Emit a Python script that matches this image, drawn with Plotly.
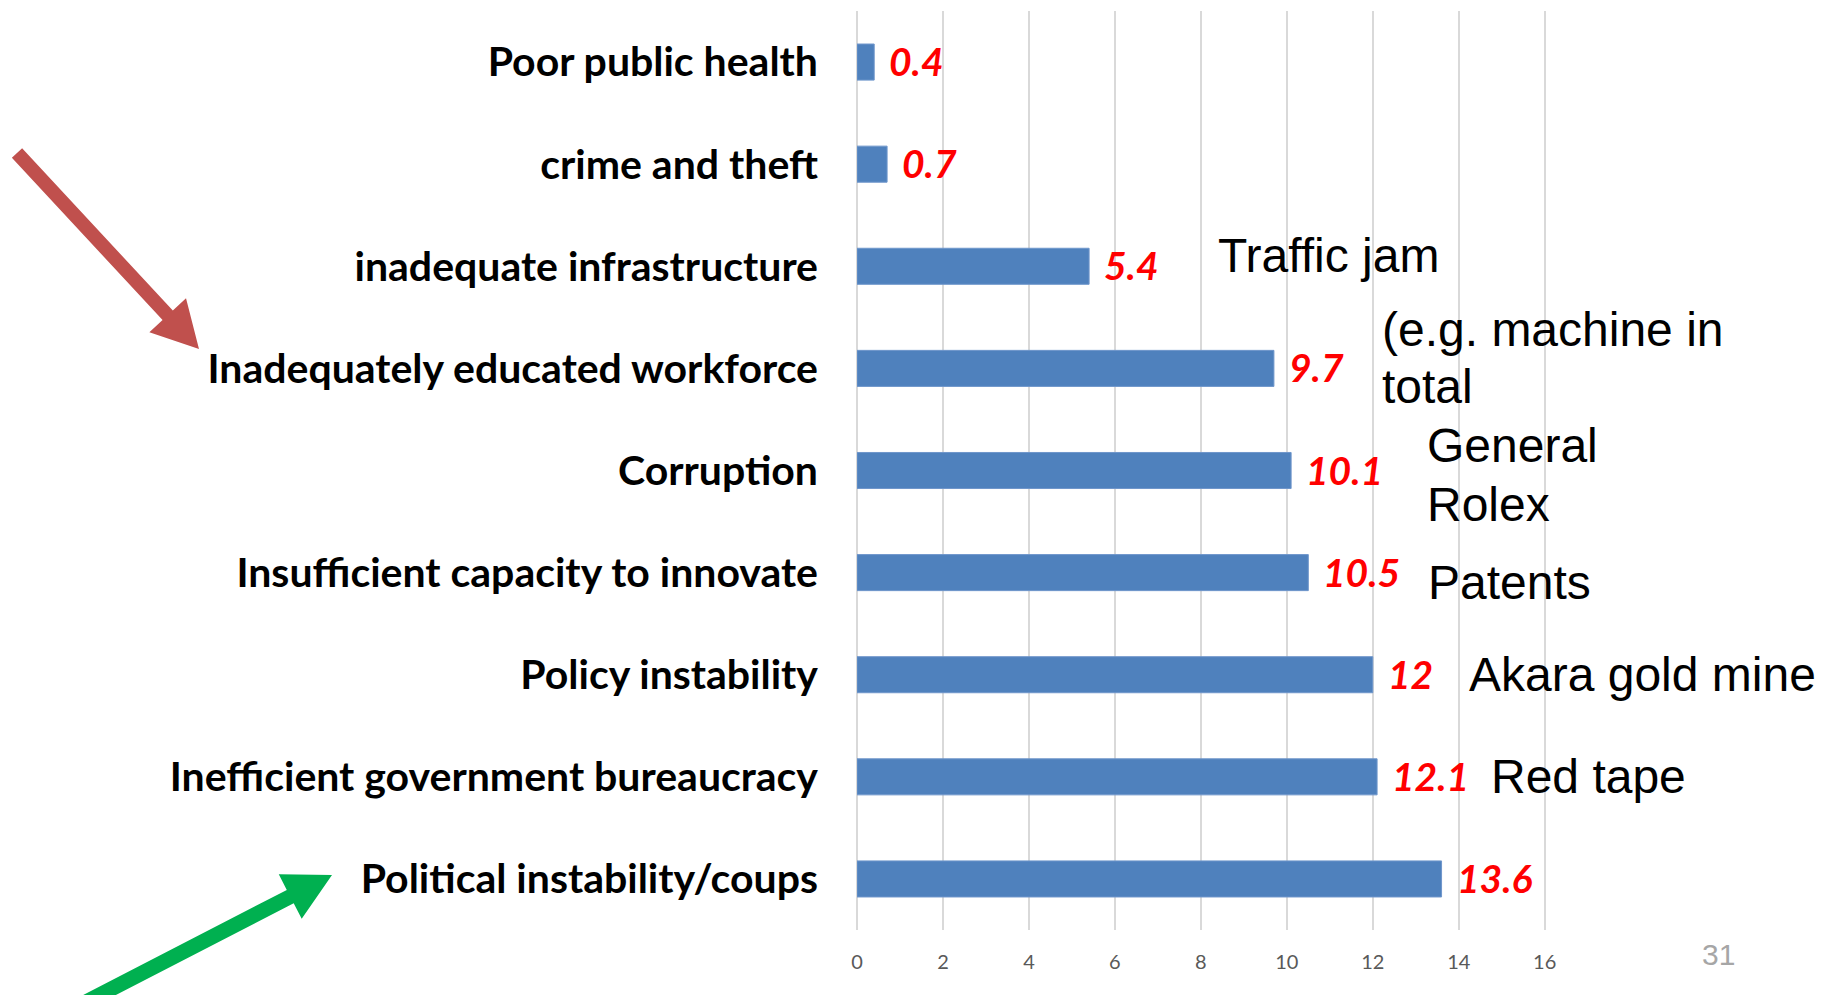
import math
import plotly.graph_objects as go

categories = [
    "Poor public health",
    "crime and theft",
    "inadequate infrastructure",
    "Inadequately educated workforce",
    "Corruption",
    "Insufficient capacity to innovate",
    "Policy instability",
    "Inefficient government bureaucracy",
    "Political instability/coups",
]
values = [0.4, 0.7, 5.4, 9.7, 10.1, 10.5, 12, 12.1, 13.6]
value_labels = ["0.4", "0.7", "5.4", "9.7", "10.1", "10.5", "12", "12.1", "13.6"]
x_ticks = [0, 2, 4, 6, 8, 10, 12, 14, 16]

# side notes: (text, x px, y px centre) in page pixels
notes = [
    ("Traffic jam", 1216, 256),
    ("(e.g. machine in", 1380, 329),
    ("total", 1380, 386),
    ("General", 1425, 446),
    ("Rolex", 1425, 504),
    ("Patents", 1426, 582),
    ("Akara gold mine", 1467, 674),
    ("Red tape", 1489, 776),
]

OFF = 8  # page body margin
W, H = 1825 - OFF, 995 - OFF
L, R, T, B = 857 - OFF, 1546 - OFF, 11 - OFF, 930 - OFF
PW, PH = R - L, B - T


def px(x):
    return (x - OFF - L) / PW


def py(y):
    return (B - (y - OFF)) / PH


def arrow_path(tail, tip, shaft_w, head_w, head_len):
    dx, dy = tip[0] - tail[0], tip[1] - tail[1]
    ln = math.hypot(dx, dy)
    ux, uy = dx / ln, dy / ln
    nx, ny = -uy, ux
    bx, by = tip[0] - ux * head_len, tip[1] - uy * head_len
    s, h = shaft_w / 2, head_w / 2
    pts = [
        (tail[0] + nx * s, tail[1] + ny * s),
        (bx + nx * s, by + ny * s),
        (bx + nx * h, by + ny * h),
        tip,
        (bx - nx * h, by - ny * h),
        (bx - nx * s, by - ny * s),
        (tail[0] - nx * s, tail[1] - ny * s),
    ]
    return "M " + " L ".join(f"{px(x):.5f},{py(y):.5f}" for x, y in pts) + " Z"


fig = go.Figure()
fig.add_trace(go.Bar(
    x=values, y=categories, orientation="h",
    marker=dict(color="#4F81BD", line=dict(color="#6F96CB", width=1)),
    hoverinfo="skip",
))

annotations = []
for v, c, lab in zip(values, categories, value_labels):
    annotations.append(dict(
        x=v, y=c, xref="x", yref="y", text=f"<b><i>{lab}</i></b>",
        showarrow=False, xanchor="left", yanchor="middle", xshift=13, yshift=1,
        font=dict(family="Lato", size=39, color="#FF0000"),
    ))
for txt, x, y in notes:
    annotations.append(dict(
        x=px(x), y=py(y), xref="paper", yref="paper", text=txt,
        showarrow=False, xanchor="left", yanchor="middle",
        font=dict(family="Liberation Sans", size=48, color="#000000"),
    ))
annotations.append(dict(
    x=px(1700), y=py(954), xref="paper", yref="paper", text="31",
    showarrow=False, xanchor="left", yanchor="middle",
    font=dict(family="Liberation Sans Narrow, Liberation Sans", size=30, color="#A6A6A6"),
))

shapes = [
    dict(type="path", xref="paper", yref="paper",
         path=arrow_path((17, 153), (199, 349), 14, 50, 46),
         fillcolor="#C0504D", line=dict(width=0)),
    dict(type="path", xref="paper", yref="paper",
         path=arrow_path((86, 1002), (332, 875), 15, 50, 47),
         fillcolor="#00B050", line=dict(width=0)),
]

fig.update_layout(
    width=W, height=H,
    margin=dict(l=L, r=W - R, t=T, b=H - B, autoexpand=False),
    plot_bgcolor="white", paper_bgcolor="white",
    showlegend=False,
    bargap=0.647,
    annotations=annotations,
    shapes=shapes,
    xaxis=dict(
        range=[0, 16.03], tickvals=x_ticks, ticktext=[str(t) for t in x_ticks],
        showgrid=True, gridcolor="#D9D9D9", gridwidth=2,
        zeroline=True, zerolinecolor="#D9D9D9", zerolinewidth=2,
        showline=False, ticks="", ticklabelstandoff=18,
        tickfont=dict(family="Lato", size=20, color="#595959"),
        fixedrange=True,
    ),
    yaxis=dict(
        categoryorder="array", categoryarray=categories, autorange="reversed",
        showgrid=False, zeroline=False, showline=False, ticks="",
        ticklabelstandoff=38,
        tickfont=dict(family="Lato", size=41, color="#000000", weight="bold"),
        fixedrange=True,
    ),
)

fig.write_html("out.html")
